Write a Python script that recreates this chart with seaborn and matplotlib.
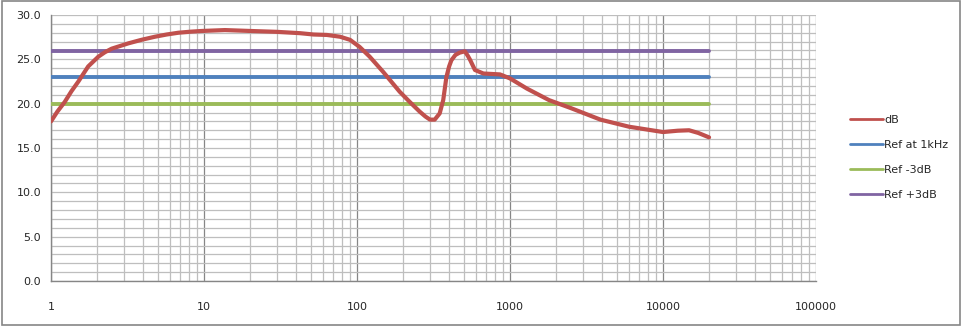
import matplotlib
matplotlib.use("Agg")
import matplotlib.pyplot as plt
import matplotlib.ticker as mticker
from matplotlib.patches import Rectangle
import seaborn as sns

freq = [1, 1.1, 1.23, 1.36, 1.51, 1.75, 2.04, 2.25, 2.49, 3.2, 3.9, 4.78, 5.7, 6.8,
        8.2, 9.7, 13.7, 20, 30, 42.4, 52, 63.6, 77.5, 90, 104, 121, 148, 190, 221,
        257, 280, 300, 322, 347, 366, 384, 400, 414, 440, 468, 507, 530, 550, 590,
        670, 860, 1000, 1290, 1800, 2500, 3900, 6000, 10000, 12500, 14800, 17000, 20000]
db = [18.0, 19.1, 20.2, 21.4, 22.5, 24.2, 25.3, 25.8, 26.2, 26.8, 27.2, 27.55, 27.8,
      28.0, 28.12, 28.2, 28.3, 28.2, 28.1, 27.95, 27.8, 27.75, 27.55, 27.2, 26.4,
      25.3, 23.6, 21.35, 20.2, 19.1, 18.55, 18.2, 18.2, 18.9, 20.4, 23.0, 24.2,
      24.9, 25.5, 25.75, 25.9, 25.4, 24.9, 23.8, 23.4, 23.3, 22.85, 21.7, 20.4,
      19.5, 18.2, 17.4, 16.8, 16.95, 17.0, 16.7, 16.2]
ref_x = [1, 20000]
ref = [22.97, 22.97]
ref_m3 = [19.97, 19.97]
ref_p3 = [25.97, 25.97]

labels = ["dB", "Ref at 1kHz", "Ref -3dB", "Ref +3dB"]
colors = ["#C0504D", "#4F81BD", "#9BBB59", "#8064A2"]

sns.set_style("white")
plt.rcParams["font.family"] = ["DejaVu Sans"]

fig = plt.figure(figsize=(9.63, 3.26), dpi=100)
ax = fig.add_axes([51 / 963, 1 - 281 / 326, (816 - 51) / 963, (281 - 15) / 326])

sns.lineplot(x=freq, y=db, ax=ax, color=colors[0], lw=3.0, label=labels[0],
             solid_capstyle="round", solid_joinstyle="round", zorder=5)
sns.lineplot(x=ref_x, y=ref, ax=ax, color=colors[1], lw=2.8, label=labels[1], zorder=4)
sns.lineplot(x=ref_x, y=ref_m3, ax=ax, color=colors[2], lw=2.8, label=labels[2], zorder=4)
sns.lineplot(x=ref_x, y=ref_p3, ax=ax, color=colors[3], lw=2.8, label=labels[3], zorder=4)

ax.set_xscale("log")
ax.set_xlim(1, 100000)
ax.set_ylim(0, 30)
ax.xaxis.set_major_locator(mticker.LogLocator(base=10, numticks=10))
ax.xaxis.set_minor_locator(mticker.LogLocator(base=10, subs=range(2, 10), numticks=20))
ax.xaxis.set_major_formatter(mticker.FuncFormatter(lambda v, p: f"{v:.0f}"))
ax.xaxis.set_minor_formatter(mticker.NullFormatter())
ax.yaxis.set_major_locator(mticker.MultipleLocator(5))
ax.yaxis.set_minor_locator(mticker.MultipleLocator(1))
ax.yaxis.set_major_formatter(mticker.FormatStrFormatter("%.1f"))

ax.grid(which="major", axis="x", color="#868686", lw=0.9)
ax.grid(which="minor", axis="x", color="#BEBEBE", lw=0.9)
ax.grid(which="both", axis="y", color="#BEBEBE", lw=0.9)
ax.set_axisbelow(True)

for s in ["top", "right"]:
    ax.spines[s].set_visible(False)
for s in ["left", "bottom"]:
    ax.spines[s].set_color("#868686")
    ax.spines[s].set_linewidth(1.0)

ax.tick_params(axis="x", which="major", direction="out", length=5, color="#868686",
               pad=10, labelsize=8)
ax.tick_params(axis="x", which="minor", length=0)
ax.tick_params(axis="y", which="major", direction="out", length=5, color="#868686",
               pad=2, labelsize=8)
ax.tick_params(axis="y", which="minor", length=0)
ax.set_xlabel("")
ax.set_ylabel("")

leg = ax.legend(loc="upper left", bbox_to_anchor=(850 / 963, 1 - 115 / 326),
                bbox_transform=fig.transFigure, frameon=False, fontsize=8,
                handlelength=3.0, handletextpad=0.1, labelspacing=1.35,
                borderaxespad=0, borderpad=0)
for h in leg.get_lines():
    h.set_linewidth(2.0)

fig.patches.append(Rectangle((0.002, 0.004), 0.995, 0.992, transform=fig.transFigure,
                             fill=False, edgecolor="#868686", lw=1.2))

fig.savefig("out.png", dpi=100)
